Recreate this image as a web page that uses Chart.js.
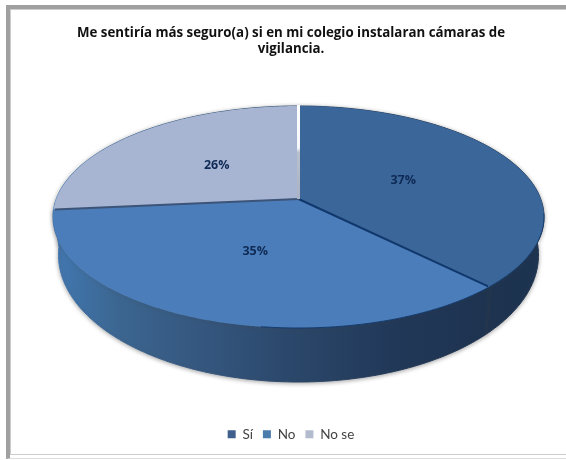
<!DOCTYPE html>
<html>
<head>
<meta charset="utf-8">
<script src="https://cdn.jsdelivr.net/npm/chart.js@4"></script>
<style>
  html, body { margin: 0; padding: 0; background: #fff; overflow: hidden; }
  #wrap { position: relative; width: 566px; height: 460px; }
  #frame { position: absolute; left: 6px; top: 5px; right: -10px; bottom: 1px; box-sizing: border-box;
           border: 4px solid #a0a0a0; border-bottom: 1px solid #ddd; outline: 1px solid #ccc; outline-offset: -5px; }
  canvas { position: absolute; left: 0; top: 0; filter: blur(0.45px); }
</style>
</head>
<body>
<div id="wrap">
  <div id="frame"></div>
  <canvas id="pie" width="566" height="460"></canvas>
</div>
<script>
const categories = ['Sí', 'No', 'No se'];
const percents = [37, 35, 26];
const titleLines = ['Me sentiría más seguro(a) si en mi colegio instalaran cámaras de', 'vigilancia.'];
const faceColors = ['#3b6699', '#4a7dba', '#a7b5d3'];
const legendColors = ['#3f5f8c', '#4a7dab', '#b3bccf'];

// the tilted pie: top face ellipse, bottom rim ellipse, perspective shift of the centre
const top3d = { x: 298.5, y: 217, rx: 245.5, ry: 111 };
const bottom3d = { x: 298.5, y: 255, rx: 240, ry: 127 };
const shift = 0.162;

// unit disc -> perspective view, so the wedges meet above the middle of the ellipse
function project(angle, r, e) {
  const u = r * Math.cos(angle), v = r * Math.sin(angle);
  const w = 1 - shift * v;
  return {
    x: e.x + e.rx * u * Math.sqrt(1 - shift * shift) / w,
    y: e.y + e.ry * (v - shift) / w
  };
}

function rimPoints(a0, a1, e) {
  const pts = [];
  const n = Math.max(2, Math.ceil((a1 - a0) / 0.01));
  for (let i = 0; i <= n; i++) pts.push(project(a0 + (a1 - a0) * i / n, 1, e));
  return pts;
}

function tracePoints(ctx, pts) {
  ctx.beginPath();
  pts.forEach((p, i) => i ? ctx.lineTo(p.x, p.y) : ctx.moveTo(p.x, p.y));
  ctx.closePath();
}

const pie3d = {
  id: 'pie3d',
  beforeDatasetsDraw(chart) {
    const ctx = chart.ctx;
    const arcs = chart.getDatasetMeta(0).data;
    ctx.save();

    const wall = ctx.createLinearGradient(53, 0, 544, 0);
    wall.addColorStop(0, '#4278b2');
    wall.addColorStop(0.14, '#3b658f');
    wall.addColorStop(0.3, '#35577f');
    wall.addColorStop(0.5, '#2a4669');
    wall.addColorStop(0.7, '#213858');
    wall.addColorStop(0.88, '#1d3350');
    wall.addColorStop(1, '#1c3350');

    ctx.shadowColor = 'rgba(60,60,60,0.45)';
    ctx.shadowBlur = 4;
    ctx.shadowOffsetY = 1;
    arcs.forEach(arc => {
      const pts = rimPoints(arc.startAngle, arc.endAngle, top3d)
        .concat(rimPoints(arc.startAngle, arc.endAngle, bottom3d).reverse());
      tracePoints(ctx, pts);
      ctx.fillStyle = wall;
      ctx.strokeStyle = wall;
      ctx.lineWidth = 1;
      ctx.fill();
      ctx.stroke();
    });
    ctx.shadowColor = 'transparent';

    const hub = project(0, 0, top3d);
    arcs.forEach((arc, i) => {
      tracePoints(ctx, [hub].concat(rimPoints(arc.startAngle, arc.endAngle, top3d)));
      ctx.fillStyle = faceColors[i];
      ctx.fill();
    });

    // rim edge over the dark wall on the right
    ctx.strokeStyle = '#143a6b';
    ctx.lineWidth = 1;
    ctx.beginPath();
    rimPoints(arcs[0].startAngle + 1.7, arcs[1].startAngle + 0.9, top3d)
      .forEach((p, i) => i ? ctx.lineTo(p.x, p.y) : ctx.moveTo(p.x, p.y));
    ctx.stroke();

    // wedge separators: dark in front, white gap at the back
    const sepColors = ['#11386c', '#3c5478'];
    arcs.slice(0, 2).forEach((arc, i) => {
      const p = project(arc.endAngle, 0.995, top3d);
      ctx.strokeStyle = sepColors[i];
      ctx.lineWidth = 2;
      ctx.beginPath();
      ctx.moveTo(hub.x, hub.y);
      ctx.lineTo(p.x, p.y);
      ctx.stroke();
    });
    const back = project(arcs[0].startAngle, 1, top3d);
    const gap = ctx.createLinearGradient(0, back.y, 0, hub.y);
    gap.addColorStop(0, '#ffffff');
    gap.addColorStop(0.45, '#f4f6fa');
    gap.addColorStop(0.5, '#b9c0cc');
    gap.addColorStop(1, '#aab2c4');
    ctx.strokeStyle = gap;
    ctx.lineWidth = 3;
    ctx.beginPath();
    ctx.moveTo(hub.x, hub.y);
    ctx.lineTo(back.x, back.y - 1);
    ctx.stroke();

    ctx.fillStyle = '#0f2a55';
    ctx.font = 'bold 12.5px "Open Sans"';
    ctx.textAlign = 'center';
    ctx.textBaseline = 'middle';
    arcs.forEach((arc, i) => {
      const p = project((arc.startAngle + arc.endAngle) / 2, 0.48, top3d);
      ctx.fillText(percents[i] + '%', p.x, p.y);
    });
    ctx.restore();
    return false;
  }
};

new Chart(document.getElementById('pie'), {
  type: 'pie',
  data: {
    labels: categories,
    datasets: [{ data: percents, backgroundColor: legendColors, borderWidth: 0 }]
  },
  plugins: [pie3d],
  options: {
    responsive: false,
    animation: false,
    layout: { padding: { top: 25, bottom: 9, left: 16 } },
    plugins: {
      tooltip: { enabled: false },
      title: {
        display: true,
        text: titleLines,
        color: '#111',
        font: { family: 'Open Sans', size: 13.3, weight: 'bold', lineHeight: 1.22 },
        padding: { top: 0, bottom: 8 }
      },
      legend: {
        position: 'bottom',
        labels: {
          boxWidth: 8,
          boxHeight: 8,
          padding: 10,
          color: '#444',
          font: { family: 'Lato', size: 13.5 }
        }
      }
    }
  }
});
</script>
</body>
</html>
